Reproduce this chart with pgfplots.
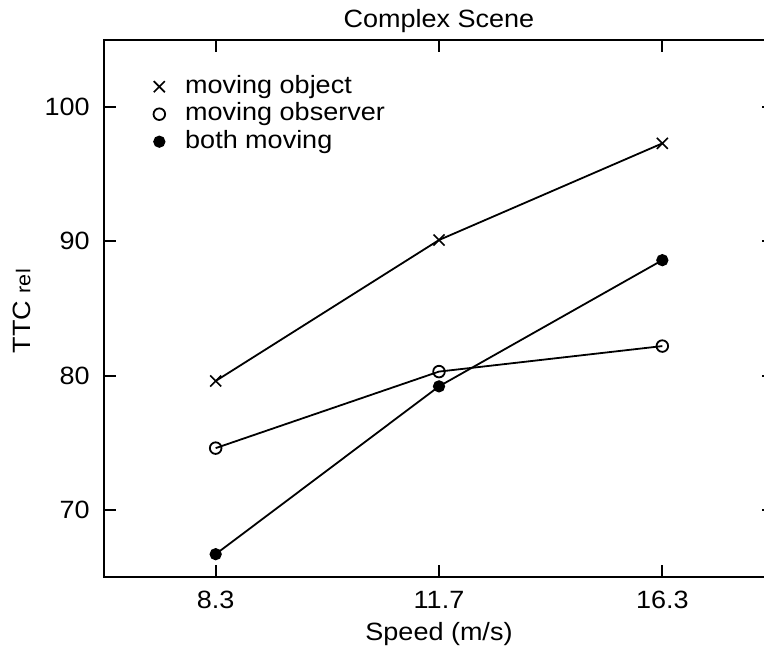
\documentclass[border=0pt]{standalone}
\usepackage{fontspec}
\setmainfont{Liberation Sans}[FakeStretch=1.08]
\usepackage{pgfplots}
\pgfplotsset{compat=1.18}

\begin{document}
\fontsize{12.5}{14}\selectfont%
\begin{tikzpicture}
\path[use as bounding box] (0,0) rectangle (382pt,323.5pt);
\begin{axis}[
  at={(52pt,35pt)}, anchor=south west,
  scale only axis, width=335pt, height=268.5pt,
  clip mode=individual,
  xmin=-0.5, xmax=2.5, ymin=65, ymax=105,
  xtick={0,1,2}, xticklabels={8.3,11.7,16.3},
  ytick={70,80,90,100},
  tick align=inside, major tick length=6pt,
  axis line style={line width=1.2pt},
  every tick/.style={black, line width=0.9pt},
  /pgf/number format/assume math mode=true,
  xticklabel style={anchor=base, yshift=-15.5pt},
  yticklabel style={anchor=east, inner sep=0pt, xshift=-7pt},
  xlabel={Speed (m/s)},
  xlabel style={at={(axis description cs:0.5,0)}, anchor=base, yshift=-31.5pt},
  ylabel={TTC {\fontsize{10}{11}\selectfont rel}},
  ylabel style={at={(axis description cs:-0.11,0.495)}, anchor=base},
  legend style={draw=none, fill=none, at={(axis description cs:0.0687,0.935)},
    anchor=north west, inner sep=0pt, row sep=2.05pt, column sep=8.5pt,
    nodes={inner sep=0pt, text height=9pt, text depth=2.7pt, anchor=base west}},
  legend cell align=left,
  legend image code/.code={\path (-4pt,0pt) (4pt,0pt); \draw[#1] plot coordinates {(0pt,3.3pt)};},
]
% moving object
\addplot[black, line width=0.9pt, mark=x, mark size=3.9pt, mark options={line width=0.8pt}]
  coordinates {(0,79.6) (1,90.1) (2,97.3)};
\addlegendentry{moving object}
% moving observer
\addplot[black, line width=0.9pt, mark=o, mark size=2.9pt, mark options={fill=white, line width=0.9pt}]
  coordinates {(0,74.6) (1,80.3) (2,82.2)};
\addlegendentry{moving observer}
% both moving
\addplot[black, line width=0.9pt, mark=*, mark size=2.6pt]
  coordinates {(0,66.7) (1,79.2) (2,88.6)};
\addlegendentry{both moving}
% chart title
\node[anchor=base, yshift=6pt] at (axis description cs:0.5,1) {Complex Scene};
\end{axis}
\end{tikzpicture}
\end{document}
